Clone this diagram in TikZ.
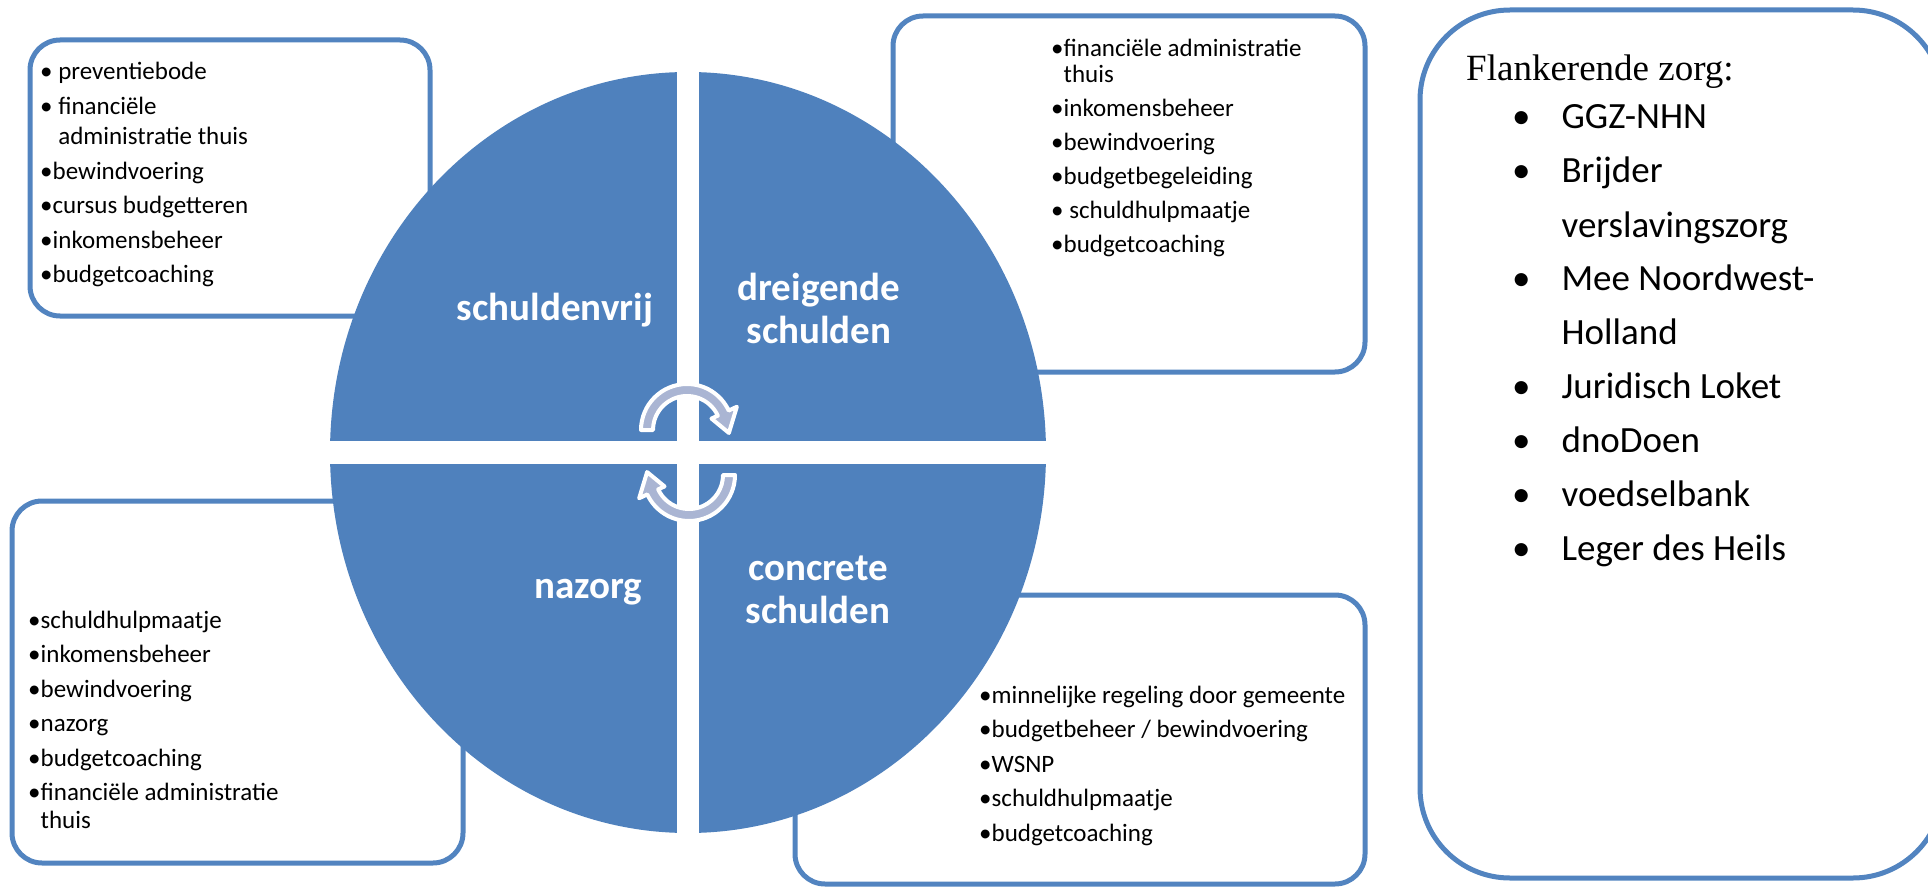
\documentclass[tikz,border=0pt]{standalone}
\usepackage{fontspec}
\setmainfont{Carlito}
\newfontfamily\timesfont{Liberation Serif}
\usepackage{tikz}

\definecolor{quadblue}{RGB}{79,129,189}
\definecolor{boxblue}{RGB}{82,132,192}
\definecolor{arrowgrey}{RGB}{170,181,211}

\begin{document}
\begin{tikzpicture}[x=1pt,y=1pt,
    listbox/.style={draw=boxblue,line width=5pt,fill=white,rounded corners=30pt},
    quadtext/.style={text=white,inner sep=0pt,anchor=base,
        font=\fontsize{39}{43}\selectfont\bfseries},
    listtext/.style={anchor=base west,inner sep=0pt,
        font=\fontsize{25}{34.5}\selectfont},
    cyclearrow/.style={fill=arrowgrey,draw=white,line width=4pt,line join=round}]
\useasboundingbox (0,0) rectangle (1928,-888);
% boxes behind the circle
\draw[listbox] (30,-40) rectangle (430,-316);
\draw[listbox] (893,-16) rectangle (1365,-372);
\draw[listbox] (12,-501) rectangle (463,-863);
\draw[listbox] (795,-595) rectangle (1365,-884);
\draw[listbox,rounded corners=90pt] (1420,-10) rectangle (1943,-878);
% circle in four parts
\fill[quadblue] (688,-452.5) ellipse [x radius=358, y radius=380.5];
\fill[white] (677,-60) rectangle (699,-845);
\fill[white] (320,-441) rectangle (1056,-464);
% turning arrows
\begin{scope}[shift={(687,-430)}]
\draw[cyclearrow] (180:46) arc[start angle=180,end angle=25,radius=46]
    -- (25:55) -- (-4:42) -- (25:27) -- (25:34)
    arc[start angle=25,end angle=180,radius=34] -- cycle;
\end{scope}
\begin{scope}[shift={(689,-475)},rotate=180]
\draw[cyclearrow] (180:46) arc[start angle=180,end angle=25,radius=46]
    -- (25:55) -- (-4:42) -- (25:27) -- (25:34)
    arc[start angle=25,end angle=180,radius=34] -- cycle;
\end{scope}
% phases
\node[quadtext] (vrij) at (555,-320) {schuldenvrij};
\node[quadtext] (dreigend) at (819,-300)
    {\begin{tabular}[t]{@{}c@{}}dreigende\\schulden\end{tabular}};
\node[quadtext] (concreet) at (818,-580)
    {\begin{tabular}[t]{@{}c@{}}concrete\\schulden\end{tabular}};
\node[quadtext] (nazorg) at (588,-598) {nazorg};
% lists
\node[listtext] (vrijlijst) at (40,-80) {\begin{tabular}[t]{@{}l@{}}
• preventiebode\\
• financiële\\[-4pt]
\phantom{•} administratie thuis\\
•bewindvoering\\
•cursus budgetteren\\
•inkomensbeheer\\
•budgetcoaching
\end{tabular}};
\node[listtext,font=\fontsize{25}{34}\selectfont] (dreiglijst) at (1051,-57)
    {\begin{tabular}[t]{@{}l@{}}
•financiële administratie\\[-8pt]
\phantom{•}thuis\\
•inkomensbeheer\\
•bewindvoering\\
•budgetbegeleiding\\
• schuldhulpmaatje\\
•budgetcoaching
\end{tabular}};
\node[listtext] (nazorglijst) at (28,-628) {\begin{tabular}[t]{@{}l@{}}
•schuldhulpmaatje\\
•inkomensbeheer\\
•bewindvoering\\
•nazorg\\
•budgetcoaching\\
•financiële administratie\\[-6.5pt]
\phantom{•}thuis
\end{tabular}};
\node[listtext] (concreetlijst) at (979,-703) {\begin{tabular}[t]{@{}l@{}}
•minnelijke regeling door gemeente\\
•budgetbeheer / bewindvoering\\
•WSNP\\
•schuldhulpmaatje\\
•budgetcoaching
\end{tabular}};
% flanking care
\node[anchor=base west,inner sep=0pt,font=\timesfont\fontsize{37}{54}\selectfont]
    (flank) at (1466,-81) {Flankerende zorg:};
\node[anchor=base west,inner sep=0pt,font=\fontsize{37}{54}\selectfont]
    (flanklijst) at (1512,-129)
    {\begin{tabular}[t]{@{}l@{\hspace{31pt}}l@{}}
• & GGZ-NHN\\
• & Brijder\\
  & verslavingszorg\\
• & Mee Noordwest-\\
  & Holland\\
• & Juridisch Loket\\
• & dnoDoen\\
• & voedselbank\\
• & Leger des Heils
\end{tabular}};
\end{tikzpicture}
\end{document}
